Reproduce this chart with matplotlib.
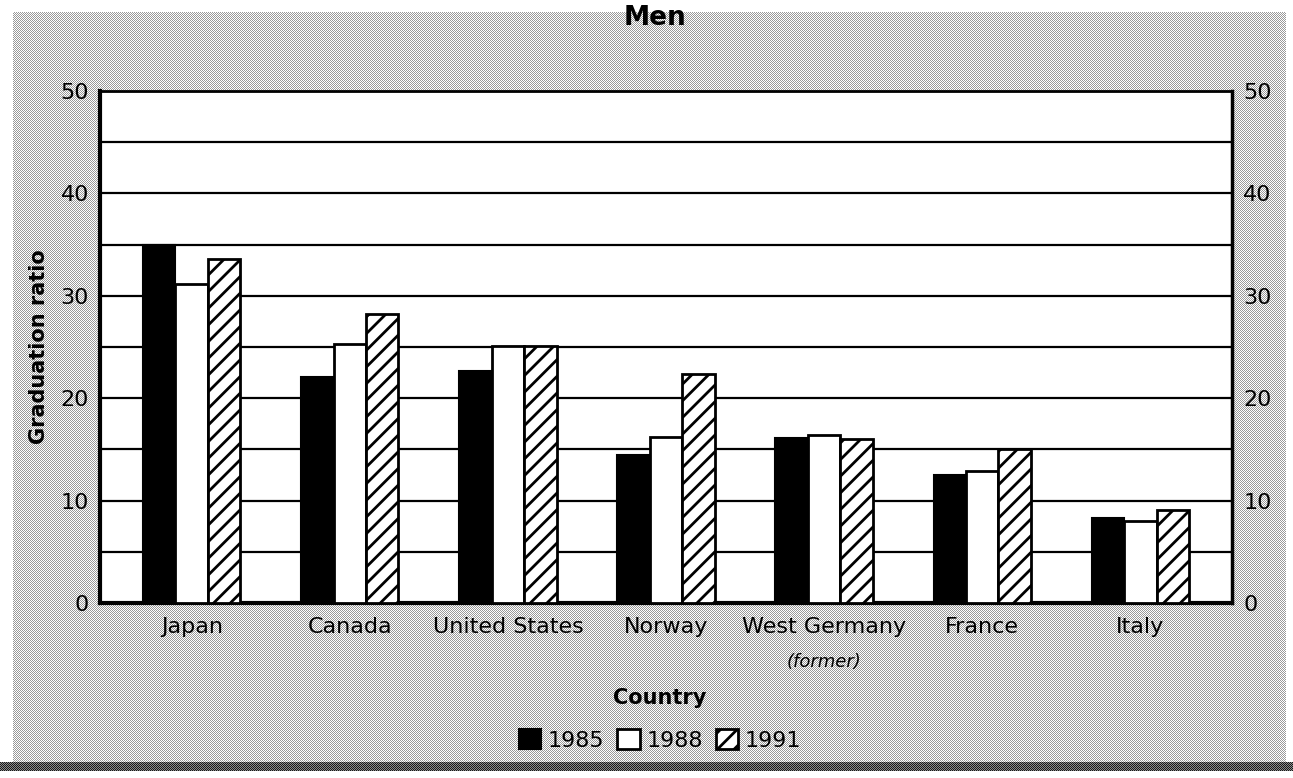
import numpy as np
from matplotlib import pyplot as plt

countries = ['Japan', 'Canada', 'United States', 'Norway', 'West Germany', 'France', 'Italy']
years = ['1985', '1988', '1991']
ratio_1985 = [35.0, 22.1, 22.7, 14.5, 16.1, 12.5, 8.3]
ratio_1988 = [31.2, 25.3, 25.1, 16.2, 16.4, 12.9, 8.0]
ratio_1991 = [33.6, 28.2, 25.1, 22.4, 16.0, 15.0, 9.1]

plt.rcParams['font.family'] = ['DejaVu Sans']
plt.rcParams['hatch.linewidth'] = 2.0

W, H = 1293, 778
fig = plt.figure(figsize=(W / 100, H / 100), dpi=100)

# stippled scan background (halftone dither)
yy, xx = np.mgrid[0:H, 0:W]
bg = np.ones((H, W, 3))
dots = ((xx + yy) % 2 == 0)
bg[dots] = 0.6
bg[:12, :] = 1.0
bg[:, :13] = 1.0
bg[:, 1286:] = 1.0
band = (yy >= 762) & (yy < 771)
bg[band & ~dots] = 0.55
bg[band & dots] = 0.1
bg[771:, :] = 1.0
fig.figimage(bg, 0, 0, origin='upper', zorder=-10)

ax = fig.add_axes([100 / W, 1 - 603 / H, 1132 / W, 512 / H])
ax.set_facecolor('white')

x = np.arange(len(countries))
w = 0.205
ax.bar(x - w, ratio_1985, w, color='black', edgecolor='black', linewidth=1.5, label=years[0], zorder=3)
ax.bar(x, ratio_1988, w, color='white', edgecolor='black', linewidth=2, label=years[1], zorder=3)
ax.bar(x + w, ratio_1991, w, color='white', edgecolor='black', linewidth=2, hatch='//', label=years[2], zorder=3)

ax.set_xlim(-0.58, 6.58)
ax.set_ylim(0, 50)
ax.set_yticks([0, 10, 20, 30, 40, 50])
ax.set_yticks([5, 15, 25, 35, 45], minor=True)
ax.grid(axis='y', which='both', color='black', linewidth=1.6, zorder=1)
ax.set_axisbelow(True)
ax.tick_params(axis='y', which='both', length=0, labelsize=16, labelright=True, pad=8)
ax.set_xticks(x)
ax.set_xticklabels(countries)
ax.tick_params(axis='x', length=0, labelsize=16, pad=10)

for side, lw in [('left', 3), ('bottom', 3), ('top', 2), ('right', 2.5)]:
    ax.spines[side].set_linewidth(lw)

ax.text(4, -4.9, '(former)', style='italic', fontsize=13, ha='center', va='top')

ax.set_ylabel('Graduation ratio', fontsize=15, fontweight='bold', labelpad=8)
fig.text(655 / W, 1 - 18 / H, 'Men', fontsize=19, fontweight='bold', ha='center', va='center')
fig.text(660 / W, 1 - 698 / H, 'Country', fontsize=15, fontweight='bold', ha='center', va='center')

leg = fig.legend(loc='center', bbox_to_anchor=(660 / W, 1 - 740 / H), ncol=3, frameon=False,
                 fontsize=16, handlelength=1.0, handleheight=1.0, handletextpad=0.3,
                 columnspacing=0.6, borderpad=0)

fig.savefig('out.png', dpi=100)
